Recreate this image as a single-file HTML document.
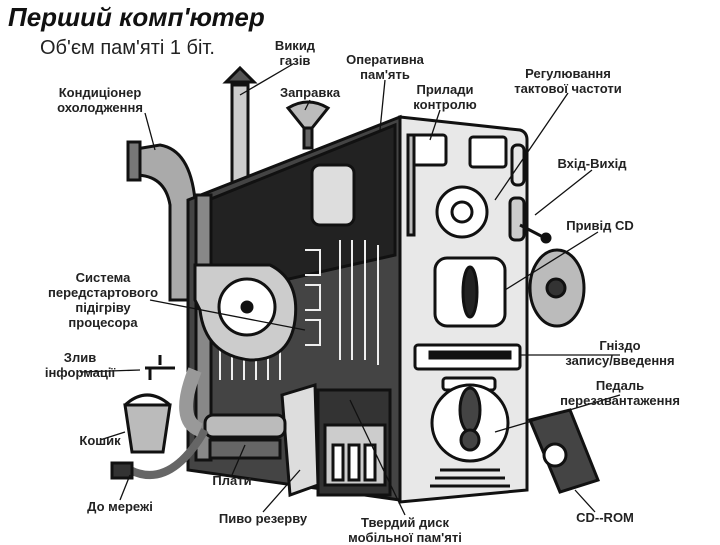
<!DOCTYPE html>
<html><head><meta charset="utf-8"><style>
body{margin:0;width:720px;height:540px;background:#fff;overflow:hidden;position:relative;font-family:"Liberation Sans",sans-serif}
.l{position:absolute;font-size:13px;font-weight:bold;color:#222;text-align:center;line-height:15px;white-space:nowrap;transform:translateX(-50%)}
</style></head><body>
<svg width="720" height="540" style="position:absolute;left:0;top:0">
<g stroke="#111" stroke-width="3" fill="none">
<rect x="232" y="85" width="16" height="125" fill="#ccc"/>
<path d="M226 82 L240 68 L254 82 Z" fill="#555"/>
<path d="M288 108 Q308 96 328 108 L312 128 L304 128 Z" fill="#bbb"/>
<rect x="304" y="128" width="8" height="20" fill="#666"/>
<path d="M130 150 L160 145 Q190 150 195 200 L195 300 L170 300 L170 205 Q165 175 135 175 Z" fill="#aaa"/>
<rect x="128" y="142" width="12" height="38" fill="#777"/>
<path d="M188 200 L400 117 L400 500 L188 470 Z" fill="#444"/>
<path d="M196 205 L395 125 L395 255 L196 300 Z" fill="#222"/>
<rect x="196" y="195" width="15" height="265" fill="#888"/>
<g stroke="#eee" stroke-width="2">
<path d="M305 250 h15 v25 h-15 M305 285 h15 v25 h-15 M305 320 h15 v25 h-15"/>
<path d="M340 240 v120 M352 240 v120 M365 240 v120 M378 245 v120"/>
<path d="M220 340 v40 M232 340 v40 M244 340 v40 M256 340 v40 M268 340 v40 M280 340 v40"/>
</g>
<rect x="312" y="165" width="42" height="60" rx="8" fill="#ddd"/>
<path d="M195 265 L270 265 Q300 280 295 320 Q290 360 250 360 Q205 355 200 310 L195 300 Z" fill="#ccc"/>
<circle cx="247" cy="307" r="28" fill="#fff"/>
<circle cx="247" cy="307" r="5" fill="#111"/>
<path d="M282 395 L315 385 L318 485 L290 495 Z" fill="#ddd"/>
<rect x="318" y="390" width="72" height="105" fill="#333"/>
<rect x="325" y="425" width="60" height="60" fill="#ccc"/>
<g fill="#fff"><rect x="333" y="445" width="10" height="35"/><rect x="349" y="445" width="10" height="35"/><rect x="365" y="445" width="10" height="35"/></g>
<rect x="205" y="415" width="80" height="22" rx="8" fill="#bbb"/>
<rect x="210" y="440" width="70" height="18" fill="#666"/>
<path d="M400 117 L520 130 Q527 132 527 140 L527 490 L400 502 Z" fill="#e8e8e8"/>
<rect x="412" y="135" width="34" height="30" rx="3" fill="#fff"/>
<rect x="470" y="137" width="36" height="30" rx="3" fill="#fff"/>
<circle cx="462" cy="212" r="25" fill="#fff"/><circle cx="462" cy="212" r="10"/>
<rect x="408" y="135" width="6" height="100" fill="#bbb"/>
<rect x="512" y="145" width="12" height="40" rx="5"/>
<rect x="510" y="198" width="14" height="42" rx="5" fill="#ccc"/>
<path d="M520 225 L545 238"/><circle cx="546" cy="238" r="4" fill="#111"/>
<rect x="435" y="258" width="70" height="68" rx="12" fill="#fff"/>
<ellipse cx="470" cy="292" rx="7" ry="25" fill="#222"/>
<rect x="415" y="345" width="105" height="24" rx="3" fill="#fff"/>
<rect x="430" y="352" width="80" height="6" fill="#111"/>
<rect x="443" y="378" width="52" height="12" rx="3" fill="#fff"/>
<circle cx="470" cy="423" r="38" fill="#fff"/>
<ellipse cx="470" cy="410" rx="10" ry="22" fill="#444"/>
<ellipse cx="470" cy="440" rx="9" ry="10" fill="#444"/>
<path d="M440 470 h60 M435 478 h70 M430 486 h80"/>
<ellipse cx="557" cy="288" rx="27" ry="38" fill="#bbb"/>
<circle cx="556" cy="288" r="9" fill="#333"/>
<path d="M530 420 L570 410 L598 480 L560 492 Z" fill="#444"/>
<circle cx="555" cy="455" r="11" fill="#fff"/>
<path d="M125 405 L170 405 L163 452 L132 452 Z" fill="#bbb"/>
<path d="M125 405 Q147 385 170 405"/>
<path d="M145 368 h30 M150 368 v12 M160 355 v10"/>
<path d="M130 470 Q170 490 205 430" stroke-width="8" stroke="#666"/>
<rect x="112" y="463" width="20" height="15" fill="#333"/>
<path d="M195 370 Q175 420 200 430" stroke-width="14" stroke="#999"/>
</g>
<g stroke="#111" stroke-width="1.3" fill="none">
<path d="M293 64 L240 95 M385 80 L380 130 M440 110 L430 140 M568 93 L495 200 M145 113 L155 150 M310 100 L305 110 M592 170 L535 215 M598 232 L505 290 M150 300 L305 330 M620 355 L520 355 M80 372 L140 370 M620 395 L495 432 M100 440 L125 432 M232 475 L245 445 M120 500 L130 475 M263 512 L300 470 M405 515 L350 400 M595 512 L575 490"/>
</g>
</svg>
<div style="position:absolute;left:8px;top:2px;font-size:26px;font-weight:bold;font-style:italic;color:#111">Перший комп'ютер</div>
<div style="position:absolute;left:40px;top:37px;font-size:20px;color:#222">Об'єм пам'яті 1 біт.</div>
<div class="l" style="left:295px;top:38px">Викид<br>газів</div>
<div class="l" style="left:385px;top:52px">Оперативна<br>пам'ять</div>
<div class="l" style="left:568px;top:66px">Регулювання<br>тактової частоти</div>
<div class="l" style="left:100px;top:85px">Кондиціонер<br>охолодження</div>
<div class="l" style="left:310px;top:85px">Заправка</div>
<div class="l" style="left:445px;top:82px">Прилади<br>контролю</div>
<div class="l" style="left:592px;top:156px">Вхід-Вихід</div>
<div class="l" style="left:600px;top:218px">Привід CD</div>
<div class="l" style="left:103px;top:270px">Система<br>передстартового<br>підігріву<br>процесора</div>
<div class="l" style="left:620px;top:338px">Гніздо<br>запису/введення</div>
<div class="l" style="left:80px;top:350px">Злив<br>інформації</div>
<div class="l" style="left:620px;top:378px">Педаль<br>перезавантаження</div>
<div class="l" style="left:100px;top:433px">Кошик</div>
<div class="l" style="left:232px;top:473px">Плати</div>
<div class="l" style="left:120px;top:499px">До мережі</div>
<div class="l" style="left:263px;top:511px">Пиво резерву</div>
<div class="l" style="left:405px;top:515px">Твердий диск<br>мобільної пам'яті</div>
<div class="l" style="left:605px;top:510px">CD--ROM</div>
</body></html>
